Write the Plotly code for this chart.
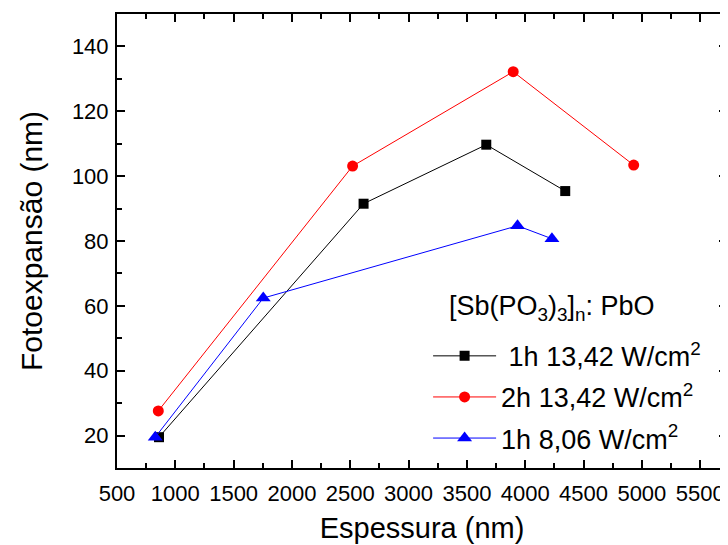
import plotly.graph_objects as go

# Data
black_x = [860, 2614, 3666, 4343]
black_y = [19.5, 91.5, 109.7, 95.4]
red_x = [854, 2520, 3897, 4930]
red_y = [27.6, 103.1, 132.2, 103.4]
blue_x = [828, 1754, 3934, 4229]
blue_y = [19.5, 62.4, 84.7, 80.7]

names = ["&nbsp;1h 13,42 W/cm<sup>2</sup>",
         "2h 13,42 W/cm<sup>2</sup>",
         "1h 8,06 W/cm<sup>2</sup>"]
legend_title = "[Sb(PO<sub>3</sub>)<sub>3</sub>]<sub>n</sub>: PbO"

FONT = "Liberation Sans, Arial, sans-serif"

fig = go.Figure()
fig.add_trace(go.Scatter(x=black_x, y=black_y, mode="lines+markers", name=names[0],
                         legendgroup="a",
                         line=dict(color="black", width=1),
                         marker=dict(symbol="square", size=10, color="black")))
fig.add_trace(go.Scatter(x=red_x, y=red_y, mode="lines+markers", name=names[1],
                         legendgroup="b",
                         line=dict(color="#ff0000", width=1),
                         marker=dict(symbol="circle", size=11, color="#ff0000")))
fig.add_trace(go.Scatter(x=blue_x, y=blue_y, mode="lines+markers", name=names[2],
                         legendgroup="c",
                         line=dict(color="#0000ff", width=1),
                         marker=dict(symbol="triangle-up", size=13, color="#0000ff")))

axis_common = dict(
    showline=True, linecolor="black", linewidth=2,
    mirror="allticks", ticks="inside", ticklen=8, tickwidth=1.5, tickcolor="black",
    showgrid=False, zeroline=False,
    tickfont=dict(family=FONT, size=22, color="black"),
)

# page body has an 8px default margin -> compensate in the figure margins
fig.update_layout(
    width=728, height=545,
    margin=dict(l=109, r=9, t=4, b=85),
    paper_bgcolor="white", plot_bgcolor="white",
    font=dict(family=FONT, color="black"),
    showlegend=True,
    legend=dict(
        x=0.51, y=0.30, xanchor="left", yanchor="top",
        bgcolor="rgba(0,0,0,0)",
        font=dict(family=FONT, size=27, color="black"),
        traceorder="grouped", tracegroupgap=3,
        itemwidth=63,
    ),
    annotations=[dict(
        text=legend_title, xref="paper", yref="paper",
        x=0.541, y=0.352, xanchor="left", yanchor="middle",
        showarrow=False, font=dict(family=FONT, size=27, color="black"),
    )],
    xaxis=dict(
        range=[500, 5730], tick0=500, dtick=500,
        minor=dict(ticks="inside", ticklen=5, tickwidth=1.5, tickcolor="black", dtick=250),
        title=dict(text="Espessura (nm)", font=dict(family=FONT, size=29, color="black"), standoff=12),
        ticklabelstandoff=5,
        **axis_common,
    ),
    yaxis=dict(
        range=[10, 150], tick0=20, dtick=20,
        minor=dict(ticks="inside", ticklen=5, tickwidth=1.5, tickcolor="black", dtick=10),
        title=dict(text="Fotoexpansão (nm)", font=dict(family=FONT, size=30, color="black"), standoff=20),
        ticklabelstandoff=2,
        **axis_common,
    ),
)

fig.write_html("out.html")
